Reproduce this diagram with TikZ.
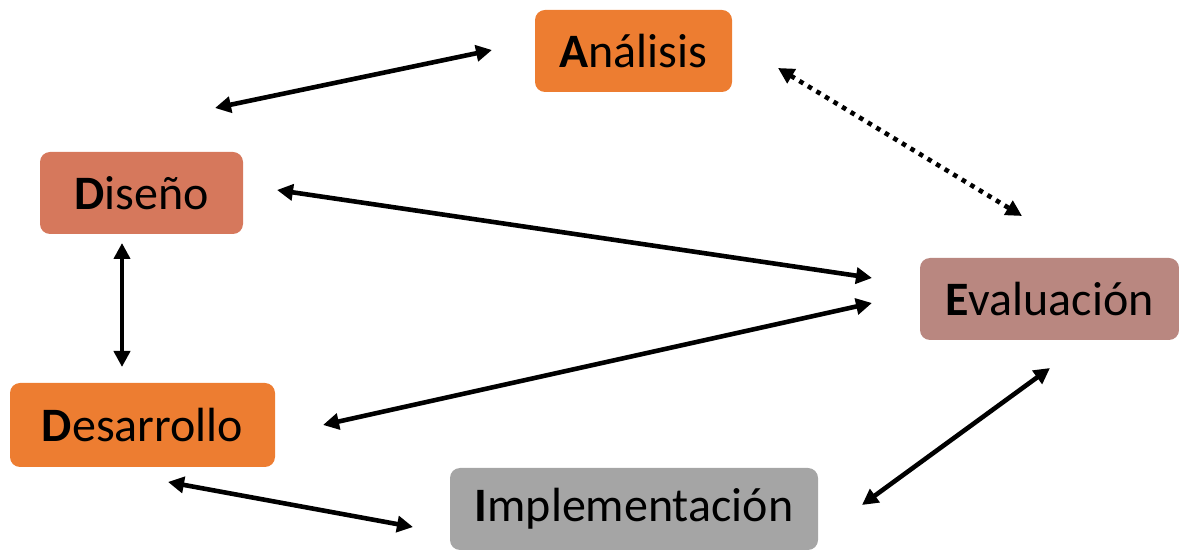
\documentclass[tikz,border=0pt]{standalone}
\usepackage{fontspec}
\setmainfont{Carlito}
\usetikzlibrary{arrows.meta}

\definecolor{naranja}{HTML}{ED7D31}
\definecolor{salmon}{RGB}{214,120,92}
\definecolor{malva}{RGB}{185,135,128}
\definecolor{gris}{HTML}{A5A5A5}

\begin{document}
\begin{tikzpicture}[x=0.5pt,y=-0.5pt,
    fase/.style={rounded corners=5pt,inner sep=0pt,minimum height=41pt,
                 font=\fontsize{24}{28}\selectfont},
    flecha/.style={{Triangle[length=8pt,width=8pt]}-{Triangle[length=8pt,width=8pt]},
                   line width=2.3pt}]
\useasboundingbox (0,0) rectangle (1179,550);

% fases
\node [fase,fill=naranja,minimum width=98.5pt] (analisis)   at ( 633.5, 51) {\textbf{A}nálisis};
\node [fase,fill=salmon, minimum width=101.5pt](diseno)     at ( 141.5,193) {\textbf{D}iseño};
\node [fase,fill=malva,  minimum width=129.5pt](evaluacion) at (1049.5,299) {\textbf{E}valuación};
\node [fase,fill=naranja,minimum width=132.5pt,minimum height=42pt]
                                               (desarrollo) at ( 142.5,425) {\textbf{D}esarrollo};
\node [fase,fill=gris,   minimum width=184pt]  (implement)  at ( 634  ,509) {\textbf{I}mplementación};

% extremos de las flechas
\coordinate (da) at ( 215,108);  \coordinate (ad) at ( 492, 50);
\coordinate (ae) at ( 778, 68);  \coordinate (ea) at (1022,216);
\coordinate (de) at ( 277,190);  \coordinate (ed) at ( 872,278);
\coordinate (re) at ( 323,425);  \coordinate (er) at ( 872,303);
\coordinate (dr) at ( 122,243);  \coordinate (rd) at ( 122,367);
\coordinate (ri) at ( 168,482);  \coordinate (ir) at ( 413,527);
\coordinate (ie) at ( 862,505);  \coordinate (ei) at (1050,368);

\draw [flecha] (da) -- (ad);
\draw [flecha,dash pattern=on 2.3pt off 2.7pt] (ae) -- (ea);
\draw [flecha] (de) -- (ed);
\draw [flecha] (re) -- (er);
\draw [flecha] (dr) -- (rd);
\draw [flecha] (ri) -- (ir);
\draw [flecha] (ie) -- (ei);
\end{tikzpicture}
\end{document}
